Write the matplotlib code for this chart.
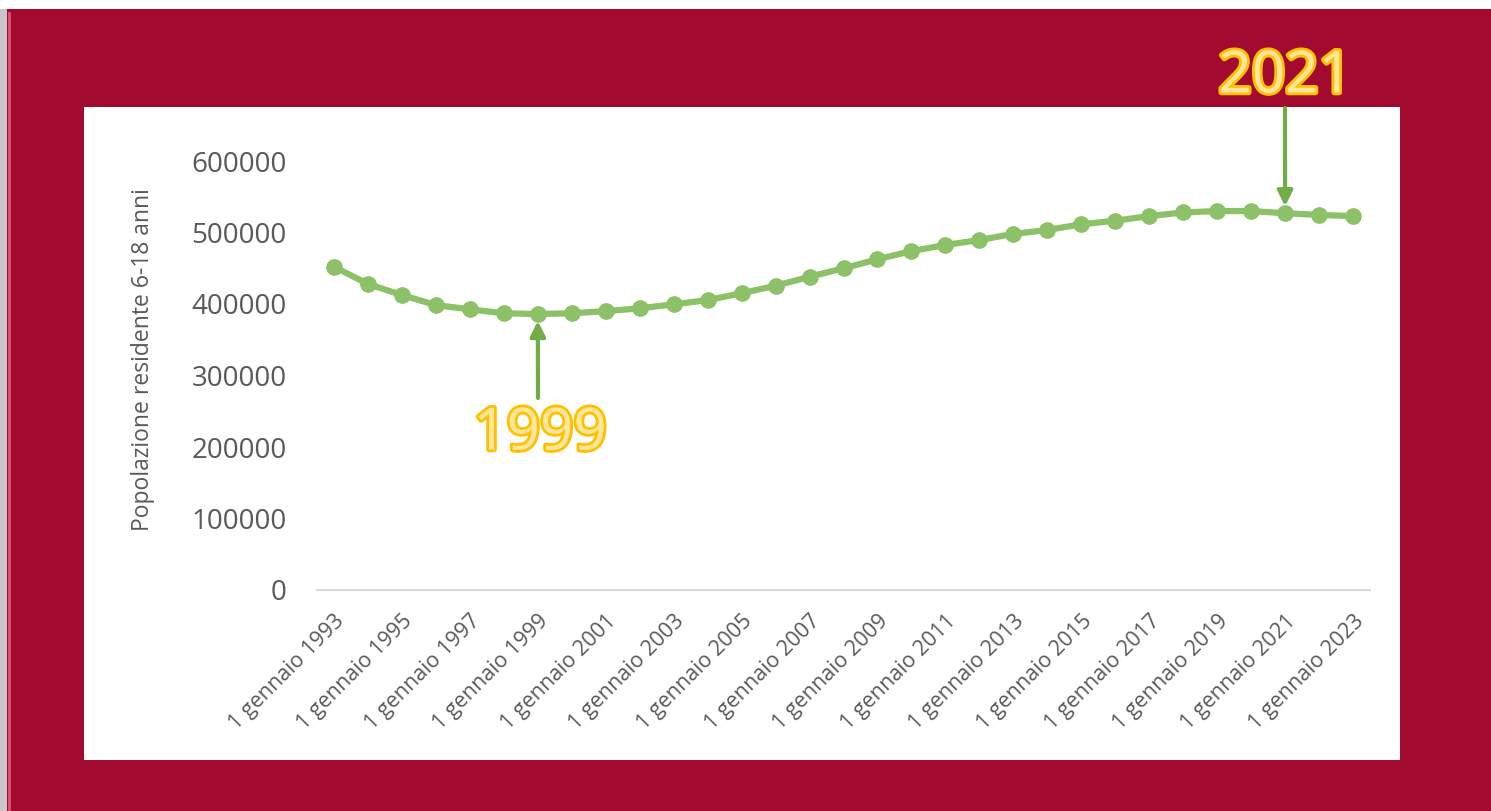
import matplotlib.pyplot as plt
import matplotlib.patheffects as pe
from matplotlib.patches import Rectangle

# DATA
years = [1993, 1994, 1995, 1996, 1997, 1998, 1999, 2000, 2001, 2002,
         2003, 2004, 2005, 2006, 2007, 2008, 2009, 2010, 2011, 2012,
         2013, 2014, 2015, 2016, 2017, 2018, 2019, 2020, 2021, 2022, 2023]
popolazione = [452000, 428000, 412500, 398500, 392500, 387000, 386000, 387000,
               390000, 394000, 399500, 405500, 415000, 425500, 438000, 450000,
               462500, 474000, 482500, 489500, 498000, 503500, 511500, 516500,
               523000, 528000, 530000, 530000, 527000, 524500, 523000]
tick_years = [1993, 1995, 1997, 1999, 2001, 2003, 2005, 2007,
              2009, 2011, 2013, 2015, 2017, 2019, 2021, 2023]
tick_labels = ["1 gennaio 1993", "1 gennaio 1995", "1 gennaio 1997", "1 gennaio 1999",
               "1 gennaio 2001", "1 gennaio 2003", "1 gennaio 2005", "1 gennaio 2007",
               "1 gennaio 2009", "1 gennaio 2011", "1 gennaio 2013", "1 gennaio 2015",
               "1 gennaio 2017", "1 gennaio 2019", "1 gennaio 2021", "1 gennaio 2023"]
y_ticks = [0, 100000, 200000, 300000, 400000, 500000, 600000]
highlights = [1999, 2021]

W, H = 1491, 811
crimson = '#A30A2F'
green = '#8CC168'
arrow_green = '#70AD47'
grey_text = '#595959'

plt.rcParams['font.family'] = ['Open Sans', 'DejaVu Sans']

fig = plt.figure(figsize=(W / 100, H / 100), dpi=100)
fig.patch.set_facecolor('white')

# Frame: grey shadow strip on the left, crimson board, white panel
def px_rect(x0, y0, x1, y1, color, z):
    fig.patches.append(Rectangle((x0 / W, 1 - y1 / H), (x1 - x0) / W, (y1 - y0) / H,
                                 transform=fig.transFigure, facecolor=color,
                                 edgecolor='none', zorder=z))

px_rect(0, 9, 7, H, '#c8c8c8', 0)
px_rect(7, 9, W, H, crimson, 1)
px_rect(8, 12, 11, H, '#d9506e', 2)
px_rect(84, 107, 1400, 760, 'white', 3)

ax = fig.add_axes([317 / W, 1 - 590 / H, (1370 - 317) / W, (590 - 161) / H])
ax.set_zorder(5)
ax.patch.set_alpha(0)

x = [years.index(y) for y in years]
ax.plot(x, popolazione, color=green, linewidth=4.5, marker='o', markersize=11,
        solid_capstyle='round', zorder=3)

ax.set_xlim(-0.5, len(years) - 0.5)
ax.set_ylim(0, 600000)
ax.set_yticks(y_ticks)
ax.set_yticklabels([str(v) for v in y_ticks])
ax.set_xticks([years.index(y) for y in tick_years])
ax.set_xticklabels(tick_labels, rotation=45, ha='right', va='top', rotation_mode='anchor')

for s in ['top', 'right', 'left']:
    ax.spines[s].set_visible(False)
ax.spines['bottom'].set_color('#D9D9D9')
ax.spines['bottom'].set_linewidth(1.5)
ax.tick_params(axis='both', length=0, colors=grey_text)
ax.tick_params(axis='y', labelsize=20, pad=22)
ax.tick_params(axis='x', labelsize=15.5, pad=15)
ax.set_ylabel("Popolazione residente 6-18 anni", fontsize=16.5, color=grey_text)
ax.yaxis.set_label_coords(-0.154, 0.536)

# Highlight annotations
label_style = dict(fontsize=42, fontweight='bold', color='#FFE699', ha='center', va='center',
                   family=['Noto Sans', 'DejaVu Sans'],
                   path_effects=[pe.withStroke(linewidth=4, foreground='#FFC000')])
arrow_style = dict(arrowstyle='-|>,head_length=0.9,head_width=0.45', color=arrow_green, lw=3,
                   shrinkA=0, shrinkB=5)

i0 = years.index(highlights[0])
ax.annotate('', xy=(i0, popolazione[i0]), xytext=(538, H - 398), textcoords='figure pixels',
            arrowprops=arrow_style, zorder=4)
fig.text(540 / W, 1 - 434 / H, str(highlights[0]), zorder=6, **label_style)

i1 = years.index(highlights[1])
ax.annotate('', xy=(i1, popolazione[i1]), xytext=(1285, H - 108), textcoords='figure pixels',
            arrowprops=arrow_style, annotation_clip=False, zorder=4)
fig.text(1285 / W, 1 - 77 / H, str(highlights[1]), zorder=6, **label_style)

fig.savefig('out.png', dpi=100, facecolor=fig.get_facecolor())
